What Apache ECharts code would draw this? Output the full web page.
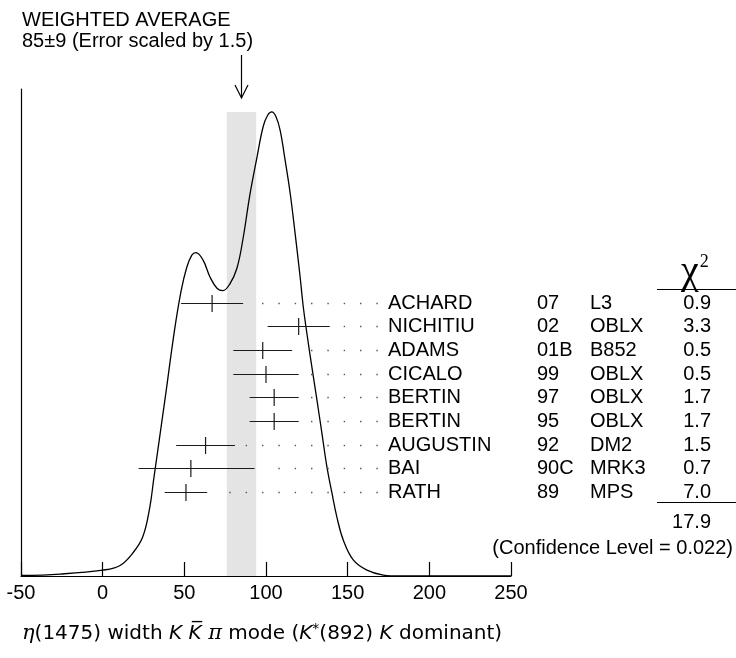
<!DOCTYPE html>
<html>
<head>
<meta charset="utf-8">
<script src="https://cdn.jsdelivr.net/npm/echarts@6/dist/echarts.min.js"></script>
<style>
  html, body { margin: 0; padding: 0; background: #fff; }
  #main { width: 736px; height: 658px; }
</style>
</head>
<body>
<div id="main"></div>
<script>
// Measurements of the eta(1475) width, K Kbar pi mode
const names = ['ACHARD', 'NICHITIU', 'ADAMS', 'CICALO', 'BERTIN', 'BERTIN', 'AUGUSTIN', 'BAI', 'RATH'];
const years = ['07', '02', '01B', '99', '97', '95', '92', '90C', '89'];
const experiments = ['L3', 'OBLX', 'B852', 'OBLX', 'OBLX', 'OBLX', 'DM2', 'MRK3', 'MPS'];
const values = [67, 120, 98, 100, 105, 105, 63, 54, 51];
const errLow = [19, 19, 18, 20, 15, 15, 18, 32, 13];
const errHigh = [19, 19, 18, 20, 15, 15, 18, 39, 13];
const chi2 = ['0.9', '3.3', '0.5', '0.5', '1.7', '1.7', '1.5', '0.7', '7.0'];
const chi2Total = '17.9';
const confidenceLevel = '0.022';

// Weighted average and its (scaled) error
const weightedAverage = 85;
const weightedError = 9;
const errorScale = 1.5;

// Ideogram curve (arbitrary units, 0-100)
const curveX = [-50, -26, 0, 10.4, 18.4, 24.5, 28.8, 31.3, 38, 44, 48, 51.5, 54.6, 57.1, 61.4, 65.7, 70, 73.6,
  77.9, 82.2, 85.9, 90.2, 94.5, 98.2, 101, 103.5, 106, 108.6, 111.7, 114.8, 117.8, 120.9, 122.7, 125, 128.1,
  131.2, 134.2, 137.3, 140.4, 143.4, 147.3, 153.4, 161.8, 171.8, 182, 250];
const curveY = [0.1, 0.4, 1.2, 2.1, 4.7, 8.0, 14.0, 20.0, 35.9, 50.5, 58.5, 63.4, 65.9, 66.4, 64.9, 61.4, 59.1, 58.6,
  60.0, 63.2, 69.2, 78.4, 86.0, 92.2, 94.6, 95.3, 94.4, 91.6, 85.4, 78.6, 70.4, 61.4, 55.6, 49.9, 42.9,
  36.1, 29.4, 22.4, 17.0, 12.1, 7.4, 3.3, 1.2, 0.2, 0, 0];
const curvePeak = 95.3;

// X axis tick labels
const xTicks = [-50, 0, 50, 100, 150, 200, 250];

const FONT = '"Liberation Sans", Arial, Helvetica, sans-serif';
const chart = echarts.init(document.getElementById('main'), null, { renderer: 'canvas' });

const ideogram = curveX.map((x, i) => [x, curveY[i]]);
const rows = values.map((v, i) => [v, v - errLow[i], v + errHigh[i], i]);

function renderRow(params, api) {
  const i = params.dataIndex;
  const row = api.value(3);
  const c = api.coord([api.value(0), row]);
  const lo = api.coord([api.value(1), row]);
  const hi = api.coord([api.value(2), row]);
  const y = Math.round(c[1]) + 0.5;
  const children = [
    { type: 'line', shape: { x1: lo[0], y1: y, x2: hi[0], y2: y }, style: { stroke: '#1a1a1a', lineWidth: 1.2 } },
    { type: 'line', shape: { x1: c[0], y1: y - 8.5, x2: c[0], y2: y + 8.5 }, style: { stroke: '#1a1a1a', lineWidth: 1.2 } }
  ];
  // dotted leader to the label column
  for (let v = 168; v > api.value(2) + 5; v -= 10) {
    const p = api.coord([v, row]);
    children.push({ type: 'rect', shape: { x: p[0] - 0.7, y: y - 0.7, width: 1.4, height: 1.4 }, style: { fill: '#555' } });
  }
  const txt = (text, x, align) => ({
    type: 'text', x: x, y: y,
    style: { text: text, font: '20px ' + FONT, fill: '#000', align: align, verticalAlign: 'middle' }
  });
  children.push(txt(names[i], 388, 'left'));
  children.push(txt(years[i], 537, 'left'));
  children.push(txt(experiments[i], 590, 'left'));
  children.push(txt(chi2[i], 711, 'right'));
  return { type: 'group', children: children };
}

chart.setOption({
  animation: false,
  backgroundColor: '#fff',
  grid: { left: 21, right: 225, top: 89, bottom: 82, containLabel: false },
  xAxis: {
    type: 'value', min: -50, max: 250, interval: 50,
    axisLine: { show: true, onZero: false, lineStyle: { color: '#000', width: 1.2 } },
    axisTick: { show: true, inside: true, length: 14, lineStyle: { color: '#000', width: 1.2 } },
    axisLabel: {
      show: true, color: '#000', fontSize: 20, fontFamily: FONT, margin: 7,
      formatter: v => (xTicks.indexOf(v) >= 0 ? String(v) : '')
    },
    splitLine: { show: false }
  },
  yAxis: [
    {
      type: 'value', min: 0, max: 100, position: 'left',
      axisLine: { show: true, onZero: false, lineStyle: { color: '#000', width: 1.2 } },
      axisTick: { show: false }, axisLabel: { show: false }, splitLine: { show: false }
    },
    {
      type: 'value', inverse: true, min: -9.03, max: 11.55, show: false
    }
  ],
  series: [
    {
      type: 'line', data: ideogram, xAxisIndex: 0, yAxisIndex: 0,
      smooth: 0.4, symbol: 'none', z: 3,
      lineStyle: { color: '#000', width: 1.3 },
      markArea: {
        silent: true,
        itemStyle: { color: '#e4e4e4' },
        data: [[
          { coord: [weightedAverage - weightedError, 0] },
          { coord: [weightedAverage + weightedError, curvePeak] }
        ]]
      }
    },
    {
      type: 'custom', data: rows, xAxisIndex: 0, yAxisIndex: 1, z: 4,
      renderItem: renderRow
    }
  ]
});

// Annotations around the plot
const ax = chart.convertToPixel({ xAxisIndex: 0 }, weightedAverage);
chart.setOption({
  graphic: [
    { type: 'text', x: 22, y: 20, style: { text: 'WEIGHTED AVERAGE', font: '20px ' + FONT, fill: '#000', verticalAlign: 'middle' } },
    { type: 'text', x: 22, y: 41, style: { text: weightedAverage + '\u00b1' + weightedError + ' (Error scaled by ' + errorScale + ')', font: '20px ' + FONT, fill: '#000', verticalAlign: 'middle' } },
    { type: 'line', shape: { x1: ax, y1: 55, x2: ax, y2: 98 }, style: { stroke: '#000', lineWidth: 1.2 } },
    { type: 'polyline', shape: { points: [[ax - 6.5, 85], [ax, 98], [ax + 6.5, 85]] }, style: { stroke: '#000', lineWidth: 1.2, fill: null } },
    {
      type: 'text', x: 681, y: 272,
      style: {
        rich: {
          chi: { font: '40px "Liberation Serif", "Times New Roman", serif', fill: '#000' },
          sup: { font: '18px "Liberation Serif", "Times New Roman", serif', fill: '#000', padding: [0, 0, 20, 1] }
        },
        text: '{chi|\u03c7}{sup|2}', verticalAlign: 'middle'
      }
    },
    { type: 'line', shape: { x1: 657, y1: 289.5, x2: 736, y2: 289.5 }, style: { stroke: '#000', lineWidth: 1 } },
    { type: 'line', shape: { x1: 657, y1: 502.5, x2: 736, y2: 502.5 }, style: { stroke: '#000', lineWidth: 1 } },
    { type: 'text', x: 711, y: 522, style: { text: chi2Total, font: '20px ' + FONT, fill: '#000', align: 'right', verticalAlign: 'middle' } },
    { type: 'text', x: 733, y: 548, style: { text: '(Confidence Level = ' + confidenceLevel + ')', font: '20px ' + FONT, fill: '#000', align: 'right', verticalAlign: 'middle' } },
    {
      type: 'text', x: 22, y: 634,
      style: {
        rich: {
          m: { font: 'italic 21px "DejaVu Serif", serif', fill: '#000' },
          i: { font: 'italic 20px "DejaVu Sans", sans-serif', fill: '#000' },
          t: { font: '20px "DejaVu Sans", sans-serif', fill: '#000' },
          s: { font: '14px "DejaVu Sans", sans-serif', fill: '#000', padding: [0, 0, 10, 0] }
        },
        text: '{m|\u03b7}{t|(1475) width }{i|K}{t| }{i|K\u0305}{m| \u03c0}{t| mode (}{i|K}{s|*}{t|(892) }{i|K}{t| dominant)}',
        verticalAlign: 'middle'
      }
    }
  ]
});
</script>
</body>
</html>
